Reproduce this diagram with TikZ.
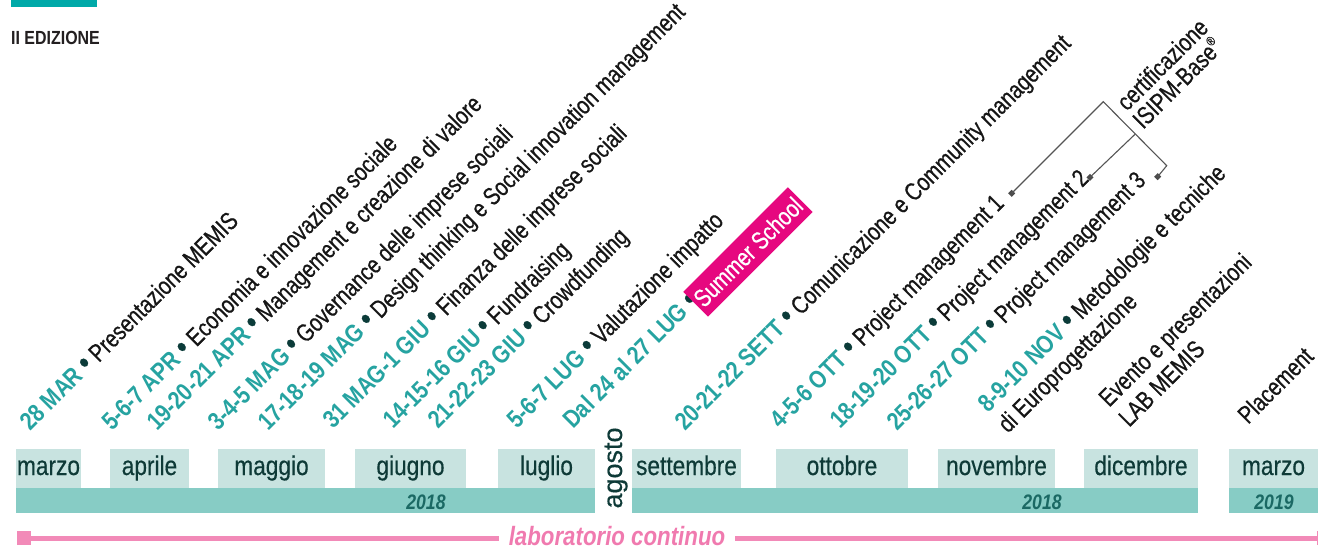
\documentclass[tikz,border=0pt]{standalone}
\usepackage{fontspec}
\setmainfont{Liberation Sans}[FakeStretch=0.80, FakeBold=0.6]
\newfontfamily\monthfont{Liberation Sans}[FakeStretch=0.84, FakeBold=0.4]
\newfontfamily\condbold{Liberation Sans}[FakeStretch=0.84]
\newfontfamily\plainsans{Liberation Sans}[FakeBold=0.4]
\definecolor{dateteal}{HTML}{26A3A1}
\definecolor{bulletc}{HTML}{0B3B39}
\definecolor{ink}{HTML}{161616}
\definecolor{lightteal}{HTML}{C8E3E0}
\definecolor{midteal}{HTML}{87CCC5}
\definecolor{monthtxt}{HTML}{0E3A37}
\definecolor{yeartxt}{HTML}{1B6964}
\definecolor{pinkline}{HTML}{F28AB8}
\definecolor{pinktxt}{HTML}{F07AAF}
\definecolor{ssmag}{HTML}{E6087F}
\definecolor{topteal}{HTML}{00A9A8}
\definecolor{edtxt}{HTML}{231F20}
\definecolor{brkc}{HTML}{555555}
\newcommand{\lblsize}{\fontsize{25}{29}\selectfont}
\newcommand{\dt}[1]{{\condbold\bfseries\color{dateteal}#1}}
\newcommand{\bul}{\ {\color{bulletc}\scalebox{1.3}{\textbullet}}\ }
\begin{document}
\begin{tikzpicture}[x=1pt,y=-1pt,
  lbl/.style={rotate=45, anchor=base west, inner sep=0pt, font=\lblsize, text=ink},
  ssbox/.style={rotate=45, anchor=south west, minimum width=148pt, minimum height=35pt, inner sep=0pt, fill=ssmag, text=white, font=\lblsize},
  mbox/.style={fill=lightteal, inner sep=0pt, minimum height=39pt, text height=19pt, text depth=6pt, font={\fontsize{27}{30}\monthfont}, text=monthtxt},
  ybar/.style={fill=midteal, inner sep=0pt, minimum height=25pt},
  yr/.style={anchor=base, inner sep=0pt, font={\fontsize{21}{24}\condbold\bfseries\itshape}, text=yeartxt},
  mk/.style={rectangle, rotate=45, fill=brkc!90!black, minimum size=5pt, inner sep=0pt},
  brk/.style={draw=brkc, line width=1.1pt},
  pl/.style={draw=pinkline, line width=5pt},
  sqm/.style={fill=pinkline, minimum size=14pt, inner sep=0pt}
]
\useasboundingbox (0,0) rectangle (1318,548);
% header
\fill[topteal] (11,0) rectangle (97,7);
\node[anchor=base west, inner sep=0pt, font={\fontsize{19}{22}\condbold\bfseries}, text=edtxt] (ed) at (11,45) {II EDIZIONE};

% rotated labels
\node[lbl] (d1) at (30,432) {\dt{28 MAR}\bul Presentazione MEMIS};
\node[lbl] (d2) at (112,432) {\dt{5-6-7 APR}\bul Economia e innovazione sociale};
\node[lbl] (d3) at (157,432) {\dt{19-20-21 APR}\bul Management e creazione di valore};
\node[lbl] (d4) at (218,432) {\dt{3-4-5 MAG}\bul Governance delle imprese sociali};
\node[lbl] (d5) at (268,432) {\dt{17-18-19 MAG}\bul Design thinking e Social innovation management};
\node[lbl] (d6) at (333,430) {\dt{31 MAG-1 GIU}\bul Finanza delle imprese sociali};
\node[lbl] (d7) at (393,430) {\dt{14-15-16 GIU}\bul Fundraising};
\node[lbl] (d8) at (438,430) {\dt{21-22-23 GIU}\bul Crowdfunding};
\node[lbl] (d9) at (517,430) {\dt{5-6-7 LUG}\bul Valutazione impatto};
\node[lbl] (d10) at (573,430) {\dt{Dal 24 al 27 LUG}\bul};
\node[ssbox] (ss) at (708,317) {Summer School};
\node[lbl] (d11) at (685,432) {\dt{20-21-22 SETT}\bul Comunicazione e Community management};
\node[lbl] (d12) at (780,430) {\dt{4-5-6 OTT}\bul Project management 1};
\node[lbl] (d13) at (840,430) {\dt{18-19-20 OTT}\bul Project management 2};
\node[lbl] (d14) at (897,432) {\dt{25-26-27 OTT}\bul Project management 3};
\node[lbl] (d15) at (988,414) {\dt{8-9-10 NOV}\bul Metodologie e tecniche};
\node[lbl] (d15b) at (1008,434) {di Europrogettazione};
\node[lbl] (ev) at (1109,408) {Evento e presentazioni};
\node[lbl] (evb) at (1129,428) {LAB MEMIS};
\node[lbl] (plc) at (1248,425) {Placement};
\node[lbl] (cert) at (1127,112) {certificazione};
\node[lbl] (certb) at (1143,130) {ISIPM-Base\raisebox{0.42em}{\fontsize{13}{13}\selectfont ®}};

% bracket
\node[mk] (m1) at (1011.7,193.3) {};
\node[mk] (m2) at (1090,177.3) {};
\node[mk] (m3) at (1157.7,176.7) {};
\coordinate (apex) at (1103.3,101.7);
\coordinate (corner) at (1166.7,165.7);
\coordinate (junc) at (1135,134.3);
\draw[brk] (m1.center) -- (apex) -- (corner) -- (m3.center);
\draw[brk] (m2.center) -- (junc);

% month boxes
\node[mbox, minimum width=65pt] (mar) at (48.5,468.5) {marzo};
\node[mbox, minimum width=79pt] (apr) at (149.5,468.5) {aprile};
\node[mbox, minimum width=107pt] (mag) at (271.5,468.5) {maggio};
\node[mbox, minimum width=111pt] (giu) at (410.5,468.5) {giugno};
\node[mbox, minimum width=97pt] (lug) at (546.5,468.5) {luglio};
\node[mbox, minimum width=109pt] (set) at (686.5,468.5) {settembre};
\node[mbox, minimum width=132pt] (ott) at (842,468.5) {ottobre};
\node[mbox, minimum width=117pt] (nov) at (996.5,468.5) {novembre};
\node[mbox, minimum width=114pt] (dic) at (1141,468.5) {dicembre};
\node[mbox, minimum width=89pt] (mar2) at (1273.5,468.5) {marzo};
\node[rotate=90, anchor=base, inner sep=0pt, font={\fontsize{27}{30}\plainsans}, text=monthtxt] (ago) at (622,468) {agosto};

% year bars
\node[ybar, minimum width=579pt] (y1) at (305.5,500.5) {};
\node[ybar, minimum width=566pt] (y2) at (915,500.5) {};
\node[ybar, minimum width=89pt] (y3) at (1273.5,500.5) {};
\node[yr] (t1) at (426,509) {2018};
\node[yr] (t2) at (1042,509) {2018};
\node[yr] (t3) at (1274,509) {2019};

% laboratorio continuo
\node[sqm] (sq) at (24,538) {};
\node[sqm] (sqr) at (1324,538) {};
\node[anchor=base, inner xsep=10pt, inner ysep=0pt, font={\fontsize{26.5}{29}\condbold\bfseries\itshape}, text=pinktxt] (lab) at (617,545) {laboratorio continuo};
\draw[pl] (sq.center) -- (sq.center -| lab.west);
\draw[pl] (sq.center -| lab.east) -- (sqr.center);
\end{tikzpicture}
\end{document}
